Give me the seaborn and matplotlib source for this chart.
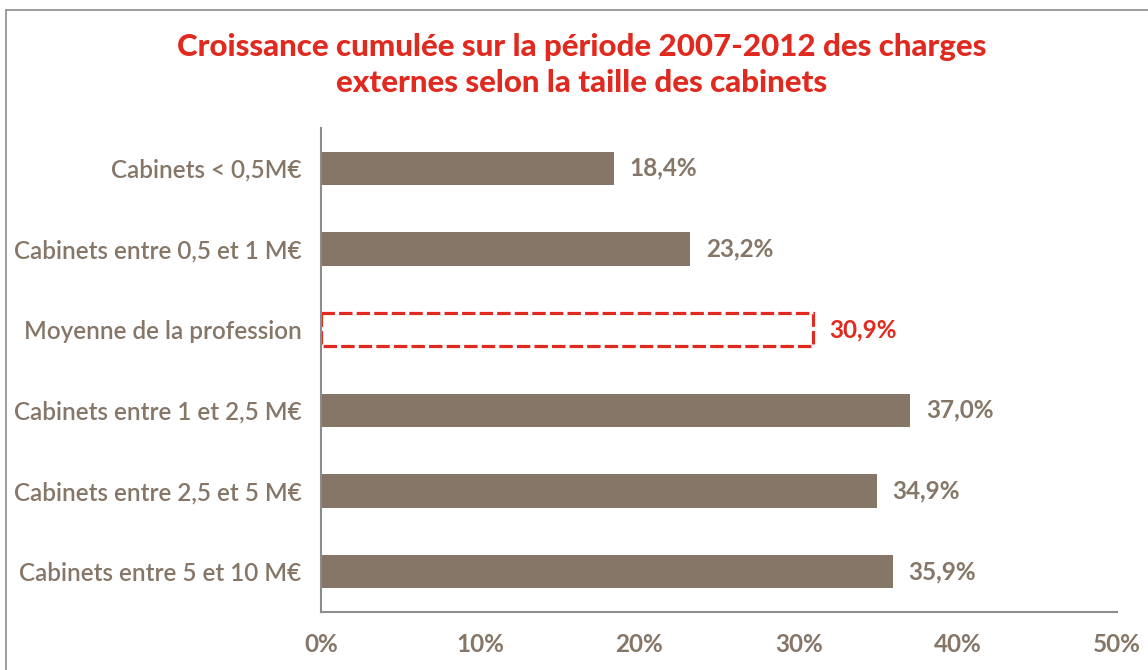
import matplotlib
matplotlib.use("Agg")
import matplotlib.pyplot as plt
import seaborn as sns
import pandas as pd
from matplotlib.lines import Line2D

# Data
categories = ["Cabinets < 0,5M€", "Cabinets entre 0,5 et 1 M€", "Moyenne de la profession",
              "Cabinets entre 1 et 2,5 M€", "Cabinets entre 2,5 et 5 M€", "Cabinets entre 5 et 10 M€"]
values = [18.4, 23.2, 30.9, 37.0, 34.9, 35.9]
value_labels = ["18,4%", "23,2%", "30,9%", "37,0%", "34,9%", "35,9%"]
x_ticks = [0, 10, 20, 30, 40, 50]
x_tick_labels = ["0%", "10%", "20%", "30%", "40%", "50%"]
average_label = "Moyenne de la profession"

brown = "#857668"
red = "#E0291F"
grey = "#8C8C8C"

sns.set_style("white")
plt.rcParams["font.family"] = ["Lato", "DejaVu Sans"]

df = pd.DataFrame({"cat": categories, "val": values})

fig = plt.figure(figsize=(11.48, 6.70), dpi=100)
ax = fig.add_axes([321 / 1148, 1 - 612 / 670, (1117 - 321) / 1148, (612 - 128) / 670])

sns.barplot(data=df, y="cat", x="val", orient="h", color=brown, width=0.41,
            saturation=1, ax=ax)

# the average bar is drawn as a dashed red outline
for patch, cat in zip(ax.patches, categories):
    patch.set_edgecolor("none")
    if cat == average_label:
        patch.set_facecolor("none")
        patch.set_edgecolor(red)
        patch.set_linewidth(2.3)
        patch.set_linestyle((0, (4.2, 1.3)))

for i, (v, lab) in enumerate(zip(values, value_labels)):
    col = red if categories[i] == average_label else brown
    ax.text(v + 1.0, i, lab, va="center", ha="left", fontsize=17.5,
            fontweight="bold", color=col)

ax.set_xlim(0, 50)
ax.set_ylim(5.5, -0.5)
ax.set_xticks(x_ticks)
ax.set_xticklabels(x_tick_labels, fontsize=17.5, fontweight="bold", color=brown)
ax.set_yticks(range(len(categories)))
ax.set_yticklabels(categories, fontsize=17.5, fontweight="semibold", color=brown)
ax.set_yticks([i - 0.5 for i in range(len(categories) + 1)], minor=True)
ax.tick_params(axis="y", which="major", length=0, pad=14)
ax.tick_params(axis="y", which="minor", length=5, width=1.2, color=grey, direction="out")
ax.tick_params(axis="x", length=5, width=1.2, color=grey, direction="out", pad=10)
ax.set_xlabel("")
ax.set_ylabel("")

for side in ["top", "right"]:
    ax.spines[side].set_visible(False)
for side in ["left", "bottom"]:
    ax.spines[side].set_color(grey)
    ax.spines[side].set_linewidth(1.5)

fig.text(582 / 1148, 1 - 65 / 670,
         "Croissance cumulée sur la période 2007-2012 des charges\nexternes selon la taille des cabinets",
         ha="center", va="center", fontsize=22.5, fontweight="black", color=red, linespacing=1.38)

# outer frame
fig.add_artist(Line2D([6 / 1148, 6 / 1148], [0, 1 - 10 / 670], transform=fig.transFigure,
                      color=grey, linewidth=1.2))
fig.add_artist(Line2D([6 / 1148, 1], [1 - 10 / 670, 1 - 10 / 670], transform=fig.transFigure,
                      color=grey, linewidth=1.2))

fig.savefig("out.png", dpi=100, facecolor="white")
